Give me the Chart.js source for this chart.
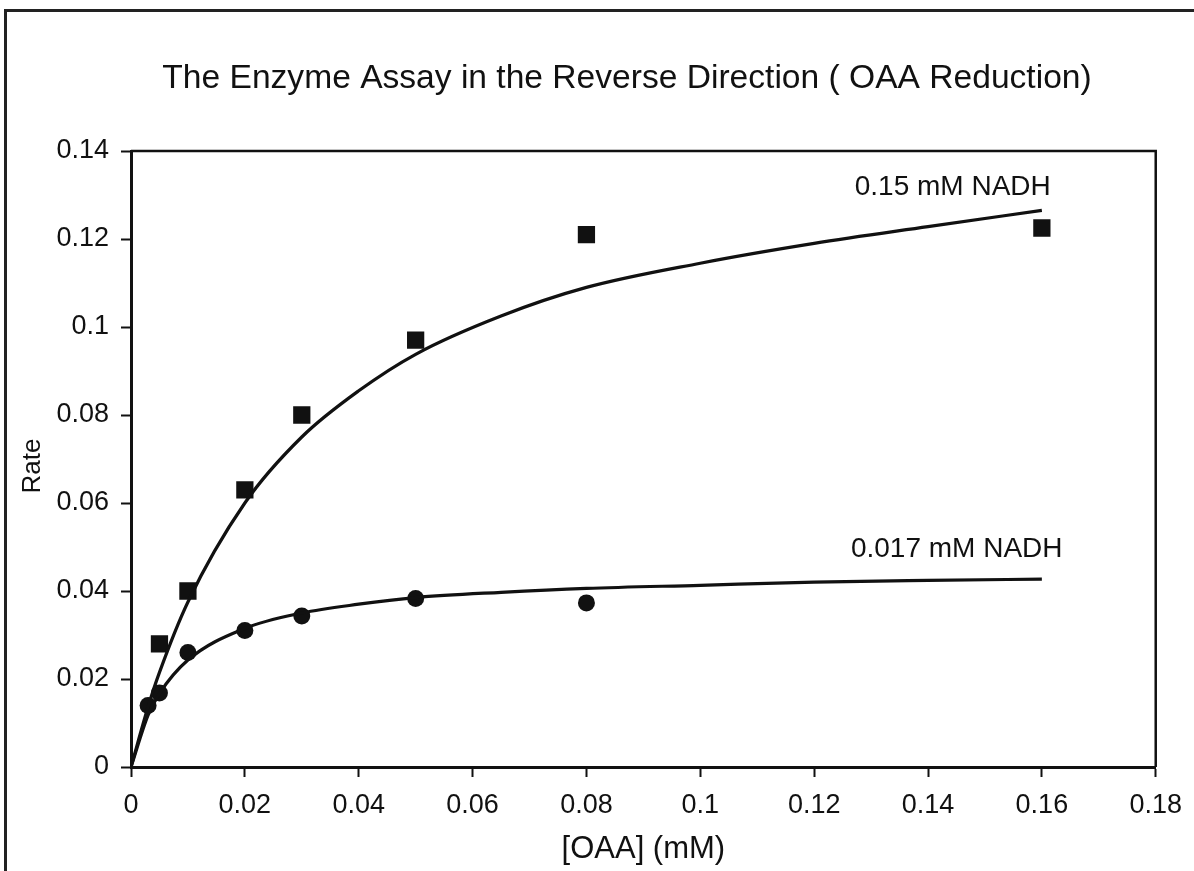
<!DOCTYPE html>
<html>
<head>
<meta charset="utf-8">
<script src="https://cdn.jsdelivr.net/npm/chart.js@4.4.1/dist/chart.umd.min.js"></script>
<style>
  html, body { margin: 0; padding: 0; background: #fff; }
  #wrap { position: relative; width: 1194px; height: 871px; overflow: hidden; background: #fff; }
  #c { position: absolute; left: 0; top: 0; }
  #frame { position: absolute; left: 4px; top: 9px; right: -10px; bottom: -10px;
           border-left: 3px solid #222; border-top: 3px solid #222; pointer-events: none; }
</style>
</head>
<body>
<div id="wrap">
  <canvas id="c" width="1194" height="871"></canvas>
  <div id="frame"></div>
</div>
<script>
// Measured rates, 0.15 mM NADH
const oaaHigh  = [0.005, 0.01, 0.02, 0.03, 0.05, 0.08, 0.16];
const rateHigh = [0.028, 0.040, 0.063, 0.080, 0.097, 0.121, 0.1225];

// Measured rates, 0.017 mM NADH
const oaaLow  = [0.003, 0.005, 0.01, 0.02, 0.03, 0.05, 0.08];
const rateLow = [0.014, 0.0168, 0.026, 0.031, 0.0343, 0.0383, 0.0373];

// Fitted saturation curves
const fitOaa  = [0, 0.003, 0.005, 0.01, 0.02, 0.03, 0.04, 0.05, 0.065, 0.08, 0.1, 0.12, 0.14, 0.16];
const fitHigh = [0, 0.0137, 0.0215, 0.0375, 0.060, 0.075, 0.0855, 0.0938, 0.1025, 0.109, 0.1145, 0.119, 0.1228, 0.1265];
const fitLow  = [0, 0.0118, 0.0167, 0.0243, 0.0315, 0.035, 0.037, 0.0385, 0.0397, 0.0406, 0.0413, 0.042, 0.0424, 0.0427];

// Axis tick labels
const xTickLabels = ['0', '0.02', '0.04', '0.06', '0.08', '0.1', '0.12', '0.14', '0.16', '0.18'];
const yTickLabels = ['0', '0.02', '0.04', '0.06', '0.08', '0.1', '0.12', '0.14'];

const chartTitle = 'The Enzyme Assay in the Reverse Direction ( OAA Reduction)';
const yTitle = 'Rate';
const seriesNames = ['0.15 mM NADH', '0.017 mM NADH'];

const pts = (xs, ys) => xs.map((x, i) => ({ x: x, y: ys[i] }));
const INK = '#111';
const FONT = '"Liberation Sans", Arial, Helvetica, sans-serif';

// Plot frame, chart title, y-axis title and curve captions
const decorations = {
  id: 'decorations',
  beforeDatasetsDraw(chart) {
    const { ctx, chartArea: a } = chart;
    ctx.save();
    ctx.strokeStyle = INK;
    ctx.lineWidth = 2.5;
    ctx.beginPath();
    ctx.moveTo(a.left, a.top);
    ctx.lineTo(a.right, a.top);
    ctx.lineTo(a.right, a.bottom);
    ctx.stroke();
    ctx.restore();
  },
  afterDraw(chart) {
    const { ctx, chartArea: a } = chart;
    ctx.save();
    ctx.fillStyle = INK;
    ctx.textAlign = 'center';
    ctx.textBaseline = 'alphabetic';
    ctx.font = '33.6px ' + FONT;
    ctx.fillText(chartTitle, 627, 88);
    ctx.font = '28px ' + FONT;
    ctx.fillText(seriesNames[0], a.right - 203, a.top + 44);
    ctx.fillText(seriesNames[1], a.right - 199, a.top + 406);
    ctx.translate(33, 466);
    ctx.rotate(-Math.PI / 2);
    ctx.textBaseline = 'middle';
    ctx.font = '26px ' + FONT;
    ctx.fillText(yTitle, 0, 0);
    ctx.restore();
  }
};

new Chart(document.getElementById('c'), {
  type: 'scatter',
  data: {
    datasets: [
      {
        label: seriesNames[0] + ' fit',
        data: pts(fitOaa, fitHigh),
        showLine: true,
        borderColor: INK,
        borderWidth: 3.2,
        pointRadius: 0,
        cubicInterpolationMode: 'monotone',
        fill: false
      },
      {
        label: seriesNames[1] + ' fit',
        data: pts(fitOaa, fitLow),
        showLine: true,
        borderColor: INK,
        borderWidth: 3.2,
        pointRadius: 0,
        cubicInterpolationMode: 'monotone',
        fill: false
      },
      {
        label: seriesNames[0],
        data: pts(oaaHigh, rateHigh),
        showLine: false,
        pointStyle: 'rect',
        pointRadius: 12.2,
        backgroundColor: INK,
        borderColor: INK,
        borderWidth: 0
      },
      {
        label: seriesNames[1],
        data: pts(oaaLow, rateLow),
        showLine: false,
        pointStyle: 'circle',
        pointRadius: 8.5,
        backgroundColor: INK,
        borderColor: INK,
        borderWidth: 0
      }
    ]
  },
  options: {
    responsive: false,
    animation: false,
    events: [],
    layout: { padding: { left: 0, top: 151, right: 36, bottom: 0 } },
    plugins: {
      legend: { display: false },
      title: { display: false },
      tooltip: { enabled: false }
    },
    scales: {
      x: {
        type: 'linear',
        min: 0,
        max: 0.18,
        afterFit(s) { s.height = 104; },
        afterBuildTicks(s) { s.ticks = xTickLabels.map(t => ({ value: parseFloat(t) })); },
        ticks: {
          callback: (v, i) => xTickLabels[i],
          color: INK,
          font: { family: FONT, size: 27 },
          padding: 12,
          maxRotation: 0,
          autoSkip: false
        },
        grid: {
          drawOnChartArea: false,
          drawTicks: true,
          tickLength: 10,
          tickWidth: 2,
          tickColor: INK
        },
        border: { display: true, color: INK, width: 3 },
        title: {
          display: true,
          text: '[OAA] (mM)',
          color: INK,
          font: { family: FONT, size: 31 },
          padding: { top: 0, bottom: 3 }
        }
      },
      y: {
        type: 'linear',
        min: 0,
        max: 0.14,
        afterFit(s) { s.width = 131; },
        afterBuildTicks(s) { s.ticks = yTickLabels.map(t => ({ value: parseFloat(t) })); },
        ticks: {
          callback: (v, i) => yTickLabels[i],
          color: INK,
          font: { family: FONT, size: 27 },
          padding: 12,
          autoSkip: false
        },
        grid: {
          drawOnChartArea: false,
          drawTicks: true,
          tickLength: 10,
          tickWidth: 2,
          tickColor: INK
        },
        border: { display: true, color: INK, width: 3 }
      }
    }
  },
  plugins: [decorations]
});
</script>
</body>
</html>
